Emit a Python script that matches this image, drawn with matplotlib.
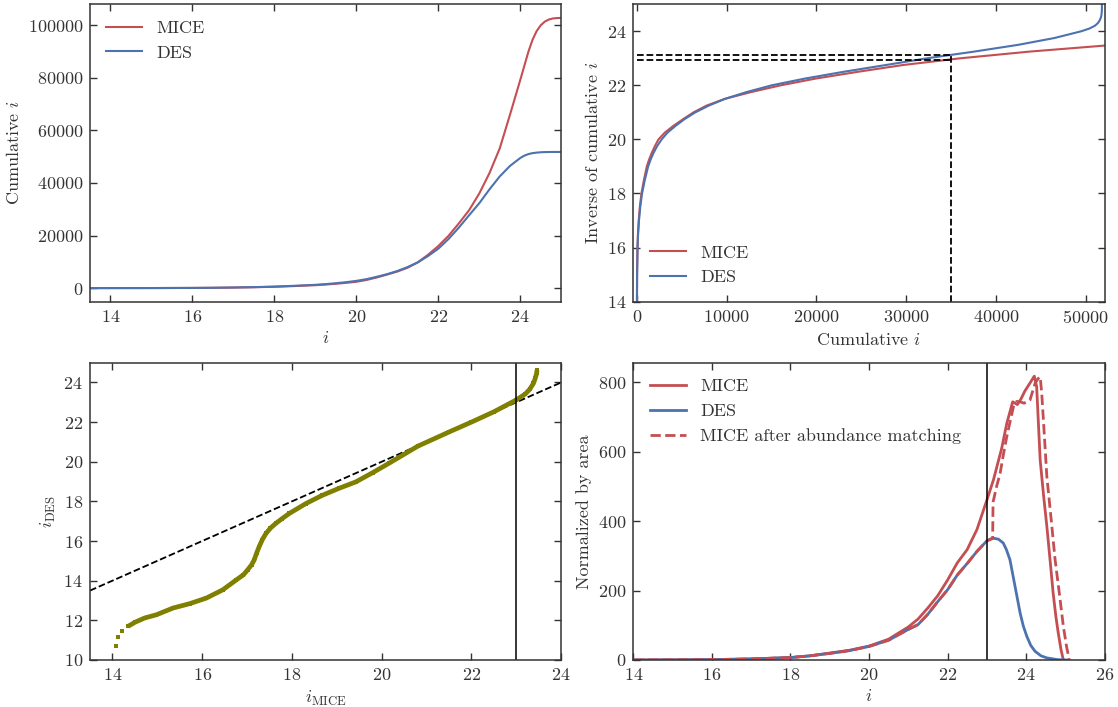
import matplotlib
matplotlib.use("Agg")
import matplotlib.pyplot as plt

# magnitude grid for the cumulative counts (top row)
cum_i = [13.5, 14, 15, 16, 16.5, 17, 17.5, 18, 18.5, 19, 19.25, 19.5, 19.75, 20, 20.25,
         20.5, 20.75, 21, 21.25, 21.5, 21.75, 22, 22.25, 22.5, 22.75, 23, 23.25, 23.5,
         23.75, 24, 24.1, 24.2, 24.3, 24.4, 24.5, 24.6, 24.7, 24.8, 24.9, 25]
cum_mice = [0, 2, 15, 60, 110, 200, 320, 500, 780, 1100, 1350, 1650, 2000, 2400, 3100,
            4050, 5150, 6300, 7750, 9800, 12700, 16000, 19900, 24600, 29600, 36000, 43800, 53200,
            66000, 79200, 84600, 90000, 94500, 97800, 100000, 101400, 102200, 102600, 102750, 102800]
cum_des = [0, 3, 20, 70, 130, 230, 370, 570, 880, 1250, 1520, 1850, 2250, 2750, 3400,
           4300, 5300, 6500, 8000, 9800, 12200, 15000, 18700, 23000, 27700, 32300, 37600, 42500,
           46500, 49500, 50400, 51000, 51350, 51550, 51680, 51750, 51780, 51800, 51800, 51800]

# abundance matching cut
cut_count = 35000
cut_i_mice = 22.95
cut_i_des = 23.13
mag_limit = 23.0

# matched magnitudes (bottom left)
match_mice = [14.07, 14.13, 14.22, 14.35, 14.50, 14.72, 14.98, 15.35, 15.72, 16.09, 16.46,
              16.76, 16.92, 17.01, 17.10, 17.16, 17.21, 17.27, 17.34, 17.42, 17.52, 17.64,
              17.78, 17.94, 18.31, 18.68, 19.05, 19.42, 19.8, 20.16, 20.8, 21.5, 22.0, 22.5,
              23.0, 23.2, 23.3, 23.38, 23.42, 23.45, 23.46]
match_des = [10.70, 11.16, 11.45, 11.70, 11.90, 12.12, 12.28, 12.62, 12.84, 13.12, 13.54,
             14.04, 14.30, 14.54, 14.80, 15.05, 15.38, 15.72, 16.07, 16.38, 16.65, 16.89,
             17.13, 17.39, 17.89, 18.31, 18.66, 18.98, 19.45, 19.92, 20.78, 21.5, 22.0, 22.52,
             23.12, 23.42, 23.66, 23.95, 24.2, 24.45, 24.62]

# distributions (bottom right)
mice_i = [14, 15, 16, 17, 18, 18.5, 19, 19.5, 20, 20.5, 21, 21.25, 21.5, 21.75, 22, 22.25,
          22.5, 22.75, 23, 23.17, 23.38, 23.51, 23.66, 23.72, 23.78, 23.87, 23.97, 24.1,
          24.21, 24.27, 24.36, 24.45, 24.53, 24.61, 24.69, 24.76, 24.82, 24.89, 24.95]
mice_n = [0, 0.3, 1, 3, 7, 12, 20, 28, 40, 60, 95, 118, 150, 185, 230, 280,
          318, 376, 460, 519, 610, 682, 744, 740, 736, 752, 775, 798,
          818, 788, 576, 470, 385, 290, 193, 125, 78, 30, 0]
des_i = [14, 15, 16, 17, 18, 18.5, 19, 19.5, 20, 20.5, 21, 21.25, 21.5, 21.75, 22, 22.25,
         22.5, 22.75, 23, 23.1, 23.17, 23.3, 23.42, 23.5, 23.59, 23.72, 23.85, 23.93,
         24.02, 24.12, 24.23, 24.38, 24.53, 24.8, 25.03]
des_n = [0, 0.3, 1, 3, 7, 12, 19, 27, 39, 57, 88, 102, 132, 168, 202, 245,
         278, 313, 343, 349, 351, 348, 337, 318, 289, 212, 135, 98,
         68, 42, 25, 12, 6, 1, 0]
am_i = [14, 15, 16, 17, 18, 18.5, 19, 19.5, 20, 20.5, 21, 21.25, 21.5, 21.75, 22, 22.25,
        22.5, 22.75, 23, 23.15, 23.16, 23.25, 23.34, 23.42, 23.51, 23.6, 23.68, 23.76,
        23.85, 23.95, 24.1, 24.17, 24.23, 24.3, 24.36, 24.40, 24.47, 24.53, 24.64, 24.74,
        24.85, 24.95, 25.03, 25.1]
am_n = [0, 0.3, 1, 3, 7, 12, 19, 27, 39, 57, 88, 102, 132, 168, 202, 245,
        278, 313, 343, 350, 455, 500, 538, 590, 644, 690, 730, 745,
        744, 740, 749, 775, 797, 810, 816, 768, 640, 528, 405, 289,
        190, 97, 40, 0]

RED = "#c44e52"
BLUE = "#4c72b0"
OLIVE = "#808000"
INK = "#333333"

plt.rcParams["font.family"] = "serif"
plt.rcParams["font.serif"] = ["cmr10"]
plt.rcParams["mathtext.fontset"] = "cm"
plt.rcParams["axes.formatter.use_mathtext"] = True
plt.rcParams["font.size"] = 13
plt.rcParams["text.color"] = INK
plt.rcParams["axes.labelcolor"] = INK
plt.rcParams["axes.edgecolor"] = INK
plt.rcParams["axes.linewidth"] = 1.1

fig, axes = plt.subplots(2, 2, figsize=(11.18, 7.07), dpi=100)
fig.subplots_adjust(left=0.0805, right=0.988, top=0.994, bottom=0.0665,
                    wspace=0.153, hspace=0.205)

for ax in axes.flat:
    ax.tick_params(direction="in", top=True, right=True, length=5, width=1,
                   colors=INK, labelsize=13, pad=5)

#Top left: cumulative
ax = axes[0, 0]
ax.plot(cum_i, cum_mice, color=RED, lw=1.5, label="MICE")
ax.plot(cum_i, cum_des, color=BLUE, lw=1.5, label="DES")
ax.set_xlim(13.5, 25)
ax.set_ylim(-5150, 108000)
ax.set_xlabel("$i$")
ax.set_ylabel("Cumulative $i$")
ax.legend(loc="upper left", frameon=False, fontsize=13)

#Top right: inverse of cumulative
ax = axes[0, 1]
ax.plot(cum_mice, cum_i, color=RED, lw=1.5, label="MICE")
ax.plot(cum_des, cum_i, color=BLUE, lw=1.5, label="DES")
ax.plot([0, cut_count], [cut_i_mice, cut_i_mice], "k--", lw=1.3)
ax.plot([0, cut_count], [cut_i_des, cut_i_des], "k--", lw=1.3)
ax.plot([cut_count, cut_count], [14, cut_i_des], "k--", lw=1.3)
ax.set_xlim(-400, 52100)
ax.set_ylim(14, 25)
ax.set_xlabel("Cumulative $i$")
ax.set_ylabel("Inverse of cumulative $i$")
ax.legend(loc="lower left", frameon=False, fontsize=13)

#Bottom left: matched magnitudes
ax = axes[1, 0]
ax.plot([13.5, 24], [13.5, 24], "k--", lw=1.3)
ax.plot(match_mice[3:], match_des[3:], color=OLIVE, lw=3.4, solid_capstyle="butt")
ax.plot(match_mice, match_des, "s", color=OLIVE, ms=3.4, mew=0)
ax.axvline(mag_limit, color="k", lw=1.1)
ax.set_xlim(13.5, 24)
ax.set_ylim(10, 25)
ax.set_yticks([10, 12, 14, 16, 18, 20, 22, 24])
ax.set_xlabel(r"$i_{\rm MICE}$")
ax.set_ylabel(r"$i_{\rm DES}$")

#Bottom right: distributions
ax = axes[1, 1]
ax.plot(mice_i, mice_n, color=RED, lw=2, label="MICE")
ax.plot(des_i, des_n, color=BLUE, lw=2, label="DES")
ax.plot(am_i, am_n, color=RED, lw=2, ls="--", label="MICE after abundance matching")
ax.axvline(mag_limit, color="k", lw=1.1)
ax.set_xlim(14, 26)
ax.set_ylim(0, 857)
ax.set_xlabel("$i$")
ax.set_ylabel("Normalized by area")
ax.legend(loc="upper left", frameon=False, fontsize=13)

fig.savefig("out.png", dpi=100)
